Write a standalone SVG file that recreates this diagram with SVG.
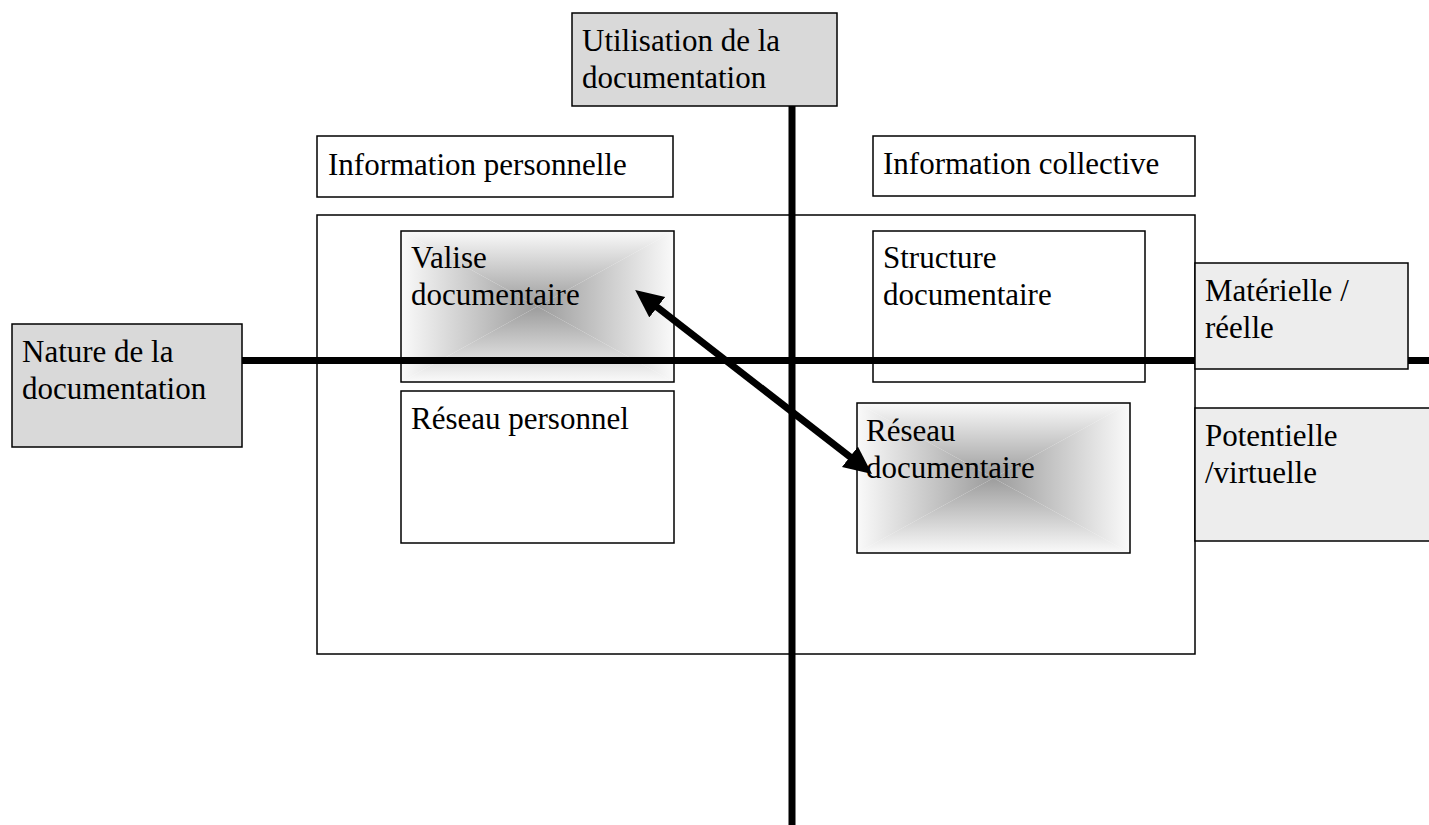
<svg xmlns="http://www.w3.org/2000/svg" width="1429" height="825" viewBox="0 0 1429 825">
<style>
  text { font-family: "Liberation Serif", "Times New Roman", serif; font-size: 31px; fill: #000; }
  .box { fill: #fff; stroke: #000; stroke-width: 1.5; }
  .dark { fill: #d9d9d9; stroke: #000; stroke-width: 1.5; }
  .light { fill: #ededed; stroke: #000; stroke-width: 1.5; }
  .frame { fill: none; stroke: #000; stroke-width: 1.5; }
  .axis { stroke: #000; stroke-width: 7; fill: none; }
</style>
<defs>
  <linearGradient id="gT" x1="0" y1="0" x2="0" y2="1"><stop offset="0" stop-color="#fafafa"/><stop offset="1" stop-color="#9c9c9c"/></linearGradient>
  <linearGradient id="gB" x1="0" y1="1" x2="0" y2="0"><stop offset="0" stop-color="#fafafa"/><stop offset="1" stop-color="#9c9c9c"/></linearGradient>
  <linearGradient id="gL" x1="0" y1="0" x2="1" y2="0"><stop offset="0" stop-color="#fafafa"/><stop offset="1" stop-color="#9c9c9c"/></linearGradient>
  <linearGradient id="gR" x1="1" y1="0" x2="0" y2="0"><stop offset="0" stop-color="#fafafa"/><stop offset="1" stop-color="#9c9c9c"/></linearGradient>
  <marker id="head" markerUnits="userSpaceOnUse" markerWidth="30" markerHeight="28" refX="13" refY="13" orient="auto-start-reverse">
    <path d="M0,0 L28,13 L0,26 z" fill="#000"/>
  </marker>
</defs>

<g id="cadre">
  <rect class="frame" x="317" y="215" width="878" height="439"/>
</g>

<g id="info-personnelle">
  <rect class="box" x="317" y="136" width="356" height="61"/>
  <text x="328" y="175">Information personnelle</text>
</g>

<g id="info-collective">
  <rect class="box" x="873" y="136" width="322" height="60"/>
  <text x="883" y="174">Information collective</text>
</g>

<g id="valise">
  <polygon points="401,231 674,231 537.5,306.5" fill="url(#gT)"/>
  <polygon points="401,382 674,382 537.5,306.5" fill="url(#gB)"/>
  <polygon points="401,231 401,382 537.5,306.5" fill="url(#gL)"/>
  <polygon points="674,231 674,382 537.5,306.5" fill="url(#gR)"/>
  <rect class="frame" x="401" y="231" width="273" height="151"/>
  <text x="411" y="268">Valise</text>
  <text x="411" y="305">documentaire</text>
</g>

<g id="structure">
  <rect class="box" x="873" y="231" width="272" height="151"/>
  <text x="883" y="268">Structure</text>
  <text x="883" y="305">documentaire</text>
</g>

<g id="reseau-personnel">
  <rect class="box" x="401" y="391" width="273" height="152"/>
  <text x="411" y="429">Réseau personnel</text>
</g>

<g id="reseau-documentaire">
  <polygon points="857,403 1130,403 993.5,478" fill="url(#gT)"/>
  <polygon points="857,553 1130,553 993.5,478" fill="url(#gB)"/>
  <polygon points="857,403 857,553 993.5,478" fill="url(#gL)"/>
  <polygon points="1130,403 1130,553 993.5,478" fill="url(#gR)"/>
  <rect class="frame" x="857" y="403" width="273" height="150"/>
  <text x="866" y="441">Réseau</text>
  <text x="866" y="478">documentaire</text>
</g>

<g id="connectors">
  <line class="axis" x1="792" y1="106" x2="792" y2="825"/>
  <line class="axis" x1="242" y1="360.5" x2="1429" y2="360.5"/>
  <line class="axis" x1="647" y1="299.2" x2="860.2" y2="464.8" marker-start="url(#head)" marker-end="url(#head)"/>
</g>

<g id="utilisation">
  <rect class="dark" x="572" y="13" width="265" height="93"/>
  <text x="582" y="51">Utilisation de la</text>
  <text x="582" y="88">documentation</text>
</g>

<g id="nature">
  <rect class="dark" x="12" y="324" width="230" height="123"/>
  <text x="22" y="362">Nature de la</text>
  <text x="22" y="399">documentation</text>
</g>

<g id="materielle">
  <rect class="light" x="1195" y="263" width="213" height="106"/>
  <text x="1205" y="301">Matérielle /</text>
  <text x="1205" y="338">réelle</text>
</g>

<g id="potentielle">
  <rect class="light" x="1195" y="408" width="250" height="133"/>
  <text x="1205" y="446">Potentielle</text>
  <text x="1205" y="483">/virtuelle</text>
</g>
</svg>
